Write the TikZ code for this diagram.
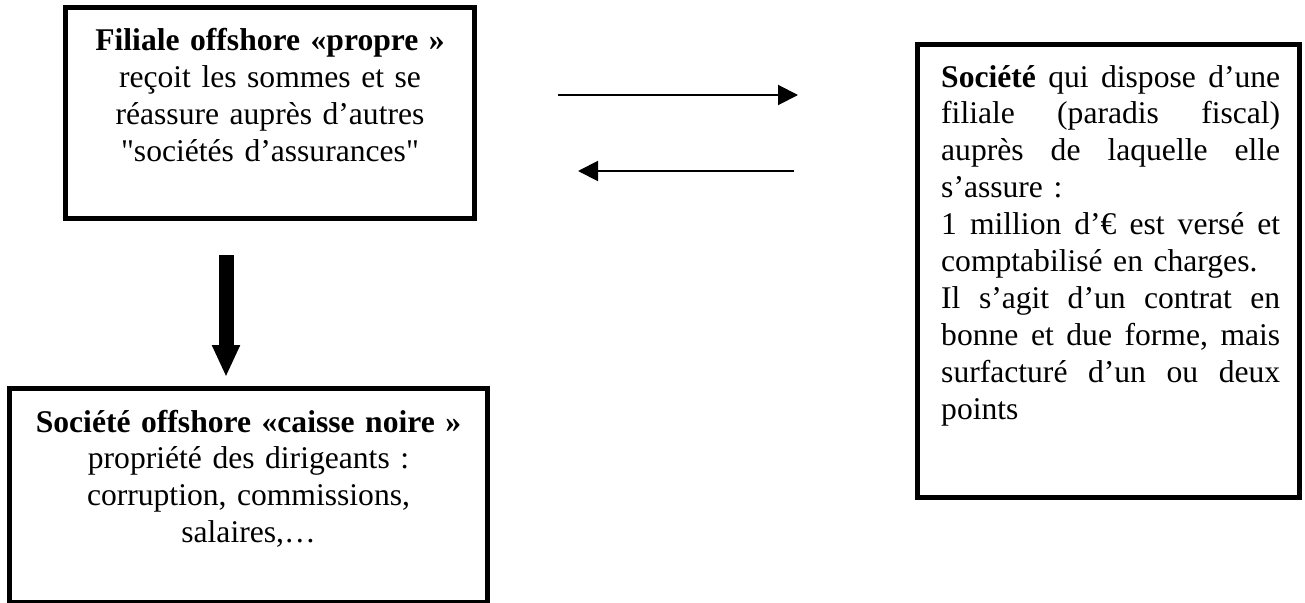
\documentclass[tikz,border=0pt]{standalone}
\usepackage{fontspec}
\setmainfont{Liberation Serif}[Ligatures={TeXOff,CommonOff}]
\usetikzlibrary{arrows.meta}
% one justified line of the right-hand box: words separated by \hfill
\newcommand\jline[1]{\makebox[339pt][l]{#1}}
\begin{document}
\begin{tikzpicture}[x=1pt,y=-1pt,
  framebox/.style={draw,line width=5pt,inner sep=0pt,rectangle},
  boxtext/.style={inner sep=0pt,font=\fontsize{31.6pt}{36.9pt}\selectfont},
  thinarrow/.style={line width=2pt,-{Triangle[length=20pt,width=20pt]}},
  blockarrow/.style={line width=15pt,-{Triangle[length=32pt,width=26pt]}}]
\useasboundingbox (0,0) rectangle (1305,602);
\clip (0,0) rectangle (1305,602);

% frames
\node[framebox,minimum width=409pt,minimum height=211pt] (filiale) at (270,113) {};
\node[framebox,minimum width=478pt,minimum height=214pt] (caisse) at (248.5,495.5) {};
\node[framebox,minimum width=382pt,minimum height=453pt] (societe) at (1108.5,271) {};

% texts
\node[boxtext,anchor=base,align=center,text width=400pt] (filialetxt) at (270,51)
  {\textbf{Filiale offshore «propre »}\\reçoit les sommes et se\\réassure auprès d’autres\\"sociétés d’assurances"};
\node[boxtext,anchor=base,align=center,text width=470pt] (caissetxt) at (248.5,432)
  {\textbf{Société offshore «caisse noire »}\\propriété des dirigeants :\\corruption, commissions,\\salaires,…};
\node[boxtext,anchor=base west,align=left,text width=339pt] (societetxt) at (941,87)
  {\jline{\textbf{Société}\hfill qui\hfill dispose\hfill d’une}\\
   \jline{filiale\hfill (paradis\hfill fiscal)}\\
   \jline{auprès\hfill de\hfill laquelle\hfill elle}\\
   s’assure :\\
   \jline{1\hfill million\hfill d’€\hfill est\hfill versé\hfill et}\\
   comptabilisé en charges.\\
   \jline{Il\hfill s’agit\hfill d’un\hfill contrat\hfill en}\\
   \jline{bonne\hfill et\hfill due\hfill forme,\hfill mais}\\
   \jline{surfacturé\hfill d’un\hfill ou\hfill deux}\\
   points};

% flows
\coordinate (r1) at (558,95);  \coordinate (r2) at (798,95);
\coordinate (l1) at (794,171); \coordinate (l2) at (578,171);
\coordinate (d1) at (226,255); \coordinate (d2) at (226,377);
\draw[thinarrow] (r1) -- (r2);
\draw[thinarrow] (l1) -- (l2);
\draw[blockarrow] (d1) -- (d2);
\end{tikzpicture}
\end{document}
